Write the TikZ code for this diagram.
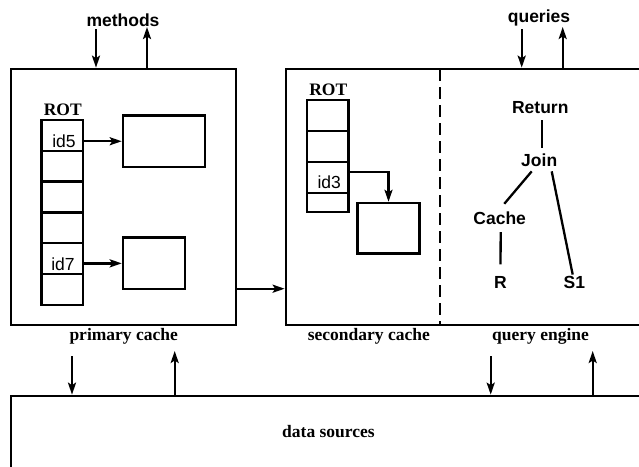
\documentclass[tikz,border=0pt]{standalone}
\usepackage{fontspec}
\setmainfont{Liberation Serif}
\setsansfont{Liberation Sans}
\usetikzlibrary{arrows.meta,calc}

\begin{document}
\begin{tikzpicture}[x=1pt,y=-1pt,line width=2.3pt,
  box/.style={draw,line width=2.7pt,inner sep=0pt},
  cell/.style={draw,line width=2.5pt,minimum width=41.5pt,inner sep=0pt},
  tlab/.style={font=\fontsize{17.5}{20}\selectfont\bfseries,anchor=base},
  hlab/.style={font=\fontsize{17.5}{20}\selectfont\sffamily\bfseries,anchor=base},
  idlab/.style={font=\fontsize{17.5}{20}\selectfont\sffamily,anchor=base},
  arr/.style={-{Stealth[length=12pt,width=8pt,inset=2.5pt]}}]
\useasboundingbox (0,0) rectangle (639,466);
\clip (0,0) rectangle (639,466);
% outer boxes
\node[box,minimum width=225pt,minimum height=256pt] (prim) at (123.5,197) {};
\node[box,minimum width=374pt,minimum height=256pt] (sec) at (473,197) {};
\node[box,minimum width=689pt,minimum height=134pt] (ds) at (355.5,463) {};
\draw[line width=2.5pt,dash pattern=on 12pt off 6pt] (440,69) -- (440,325);
% labels
\node[hlab] (methods) at (123,26) {methods};
\node[hlab] (queries) at (539,22.5) {queries};
\node[tlab] (primlab) at (123.7,340.7) {primary cache};
\node[tlab] (seclab) at (368.8,340.7) {secondary cache};
\node[tlab] (qelab) at (540.5,340.7) {query engine};
\node[tlab] (dslab) at (328.5,437.3) {data sources};
% top and bottom arrows
\coordinate (minp) at (96,29);
\coordinate (mout) at (147,27);
\coordinate (qinp) at (521.7,29);
\coordinate (qout) at (562.7,27);
\draw[arr] (minp) -- (minp |- prim.north);
\draw[arr] (mout |- prim.north) -- (mout);
\draw[arr] (qinp) -- (qinp |- sec.north);
\draw[arr] (qout |- sec.north) -- (qout);
\coordinate (pdown) at (72,356);
\coordinate (pup) at (174.7,351);
\coordinate (qdown) at (490.7,356);
\coordinate (qup) at (592.7,351);
\draw[arr] (pdown) -- (pdown |- ds.north);
\draw[arr] (pup |- ds.north) -- (pup);
\draw[arr] (qdown) -- (qdown |- ds.north);
\draw[arr] (qup |- ds.north) -- (qup);
% primary cache
\node[tlab] (rotp) at (62.8,115.7) {ROT};
\foreach \i in {1,...,6}
  \node[cell,minimum height=30.8pt] (p\i) at (62.25,{135.4+30.8*(\i-1)}) {};
\node[idlab] (id5) at (64,147.7) {id5};
\node[idlab] (id7) at (63,270) {id7};
\node[box,line width=2.5pt,minimum width=82pt,minimum height=51.5pt] (pbox1) at (164,141.25) {};
\node[box,line width=2.5pt,minimum width=62pt,minimum height=51.3pt] (pbox2) at (154,263.35) {};
\draw[arr] (p1.east |- pbox1.west) -- (pbox1.west);
\draw[arr] (p5.east |- pbox2.west) -- (pbox2.west);
\coordinate (lvl) at (0,288.7);
\draw[arr] (prim.east |- lvl) -- (sec.west |- lvl);
% secondary cache
\node[tlab] (rots) at (328.3,95) {ROT};
\foreach \i in {1,2,3}
  \node[cell,minimum height=31pt] (sc\i) at (327.5,{115.5+31*(\i-1)}) {};
\node[cell,minimum height=19pt] (sc4) at (327.5,202.5) {};
\node[idlab] (id3) at (329.2,188.3) {id3};
\node[box,line width=2.5pt,minimum width=61.6pt,minimum height=50.3pt] (sbox) at (388.5,228.2) {};
\draw[arr] ([yshift=5.5pt]sc3.east) -| (sbox.north);
% query engine
\node[hlab] (ret) at (540.3,113.3) {Return};
\node[hlab] (join) at (539.2,166.7) {Join};
\node[hlab] (cache) at (499.7,224) {Cache};
\node[hlab] (rel) at (500.5,288.3) {R};
\node[hlab] (sone) at (574.3,288.3) {S1};
\draw[shorten <=2.5pt,shorten >=2pt] ([xshift=1.4pt]ret.south) -- ([xshift=2.5pt]join.north);
\draw[shorten >=4pt] ([xshift=-7.5pt]join.south) -- ([xshift=2pt]cache.north);
\draw[shorten <=3.5pt,shorten >=7.5pt] ([xshift=1pt]cache.south) -- (rel.north);
\draw ([xshift=12.5pt]join.south) -- ([xshift=-1.6pt,yshift=-3pt]sone.north);
\end{tikzpicture}
\end{document}
